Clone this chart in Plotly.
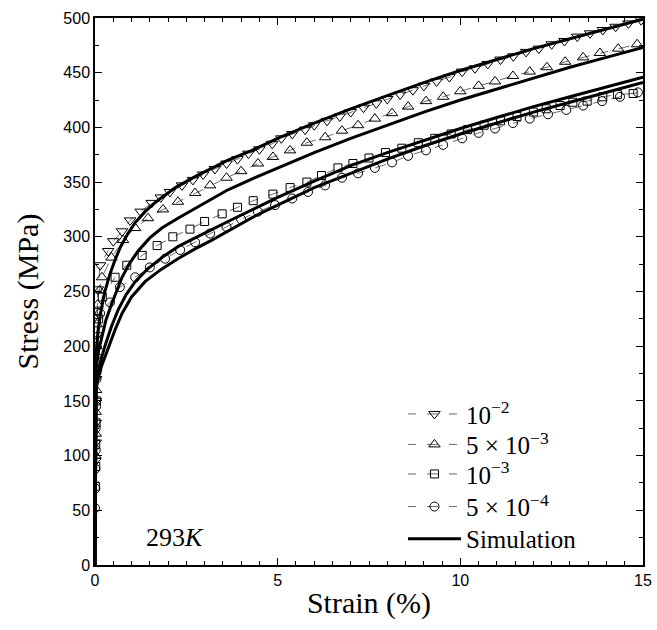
import plotly.graph_objects as go

# ---- experimental data (strain %, stress MPa) ----
td_strain = [0.01, 0.02, 0.02, 0.03, 0.03, 0.04, 0.05, 0.06, 0.08, 0.14, 0.36, 0.5, 0.74, 0.96, 1.25, 1.55, 1.8, 2.05,
             2.38, 2.68, 2.96, 3.28, 3.6, 3.9, 4.2, 4.5, 4.85, 5.1, 5.4, 5.75, 6.0, 6.35, 6.7, 7.0, 7.35, 7.7, 8.0,
             8.35, 8.7, 9.0, 9.35, 9.7, 10.05, 10.4, 10.75, 11.1, 11.45, 11.8, 12.15, 12.5, 12.85, 13.2, 13.55,
             13.9, 14.25, 14.6, 14.95]
td_stress = [95, 112, 130, 150, 170, 190, 210, 232, 252, 274, 287, 296, 305, 315, 323, 331, 336, 341,
             347, 352, 357, 362, 367, 371, 376, 380, 385, 390, 394, 398, 402, 406, 410, 414, 418, 422, 426,
             430, 434, 438, 442, 446, 451, 454, 458, 462, 465, 469, 472, 476, 479, 483, 486,
             489, 492, 495, 498]

tu_strain = [0.01, 0.02, 0.02, 0.03, 0.03, 0.04, 0.05, 0.07, 0.12, 0.19, 0.45, 0.77, 1.1, 1.45, 1.86, 2.27, 2.74,
             3.15, 3.6, 4.0, 4.46, 4.87, 5.34, 5.8, 6.3, 6.76, 7.2, 7.66, 8.13, 8.57, 9.06, 9.53, 10.0,
             10.5, 10.95, 11.44, 11.9, 12.37, 12.87, 13.36, 13.82, 14.32, 14.84]
tu_stress = [100, 120, 140, 160, 180, 200, 220, 238, 251, 263, 281, 297, 308, 317, 325, 332, 340,
             347, 354, 360, 367, 373, 379, 386, 391, 397, 402, 408, 413, 419, 424, 428, 433,
             438, 442, 447, 451, 455, 460, 464, 468, 472, 476]

sq_strain = [0.01, 0.02, 0.02, 0.03, 0.04, 0.05, 0.1, 0.2, 0.55, 0.87, 1.29, 1.7, 2.13, 2.6, 3.0, 3.48, 3.9,
             4.33, 4.87, 5.34, 5.8, 6.2, 6.65, 7.06, 7.5, 7.95, 8.4, 8.85, 9.3, 9.75, 10.2, 10.65, 11.1,
             11.55, 12.0, 12.35, 12.73, 13.08, 13.47, 13.9, 14.3, 14.73]
sq_stress = [72, 90, 110, 130, 150, 178, 225, 245, 263, 274, 283, 292, 300, 307, 314, 321, 327,
             333, 339, 345, 350, 356, 363, 367, 372, 377, 381, 386, 390, 394, 398, 402, 406,
             410, 414, 417, 420, 423, 424, 428, 430, 431]

ci_strain = [0.0, 0.01, 0.01, 0.02, 0.02, 0.03, 0.04, 0.06, 0.14, 0.41, 0.68, 1.1, 1.5, 1.92, 2.33, 2.74,
             3.15, 3.6, 4.0, 4.46, 4.93, 5.4, 5.83, 6.3, 6.76, 7.2, 7.66, 8.13, 8.57, 9.06, 9.53,
             10.05, 10.5, 10.95, 11.44, 11.9, 12.4, 12.9, 13.36, 13.88, 14.37, 14.86]
ci_stress = [52, 70, 88, 105, 125, 145, 170, 205, 230, 240, 254, 263, 272, 280, 288, 295,
             303, 309, 316, 323, 329, 335, 341, 347, 354, 358, 363, 368, 374, 379, 384,
             390, 395, 399, 404, 408, 412, 416, 420, 424, 428, 432]

# ---- simulation curves ----
s1_strain = [0, 0.02, 0.08, 0.15, 0.27, 0.4, 0.55, 0.7, 0.9, 1.1, 1.37, 1.6, 1.83, 2.2, 2.74, 3.2, 3.64, 4.3,
             5.0, 6.0, 7.0, 8.0, 9.0, 10.0, 11.0, 12.0, 13.0, 14.0, 15.0]
s1_stress = [0, 188, 212, 230, 250, 265, 279, 291, 303, 313, 323, 330, 336, 345, 355, 363, 370, 379,
             390, 404, 417, 429, 441, 452, 462, 472, 481, 490, 499]

s2_strain = [0, 0.03, 0.1, 0.19, 0.3, 0.47, 0.6, 0.74, 0.95, 1.18, 1.5, 1.83, 2.27, 2.74, 3.2, 3.64, 4.38,
             5.0, 6.0, 7.0, 8.0, 9.0, 10.0, 11.0, 12.0, 13.0, 14.0, 15.0]
s2_stress = [0, 180, 196, 210, 224, 240, 252, 263, 276, 287, 299, 308, 317, 326, 335, 343, 354,
             363, 377, 390, 402, 414, 425, 435, 445, 455, 464, 473]

s3_strain = [0, 0.03, 0.08, 0.15, 0.27, 0.45, 0.63, 0.85, 1.1, 1.45, 1.83, 2.27, 2.74, 3.2, 3.64, 4.38, 5.0,
             6.0, 7.0, 8.0, 9.0, 10.0, 11.0, 12.0, 13.0, 14.0, 15.0]
s3_stress = [0, 165, 176, 186, 200, 218, 233, 247, 259, 271, 281, 291, 299, 307, 314, 326, 336,
             351, 365, 377, 388, 399, 409, 419, 428, 437, 446]

s4_strain = [0, 0.03, 0.08, 0.18, 0.36, 0.55, 0.74, 1.0, 1.37, 1.8, 2.27, 2.74, 3.2, 3.8, 4.38, 5.0, 6.0,
             7.0, 8.0, 9.0, 10.0, 11.0, 12.0, 13.0, 14.0, 15.0]
s4_stress = [0, 160, 170, 182, 198, 215, 230, 245, 259, 270, 280, 289, 297, 308, 319, 329, 345,
             358, 371, 383, 394, 404, 414, 423, 432, 441]

labels = ["10<sup>−2</sup>", "5 × 10<sup>−3</sup>", "10<sup>−3</sup>", "5 × 10<sup>−4</sup>", "Simulation"]

SERIF = "Liberation Serif, DejaVu Serif, serif"
SANS = "Liberation Sans, Arial, sans-serif"
legend_ids = ["legend", "legend2", "legend3", "legend4", "legend5"]

fig = go.Figure()

data_sets = [
    (td_strain, td_stress, "triangle-down-open", 10),
    (tu_strain, tu_stress, "triangle-up-open", 10),
    (sq_strain, sq_stress, "square-open", 8),
    (ci_strain, ci_stress, "circle-open", 9),
]
for k, ((xs, ys, sym, sz), lab) in enumerate(zip(data_sets, labels)):
    fig.add_trace(go.Scatter(
        x=xs, y=ys, mode="lines+markers", name=lab, legend=legend_ids[k],
        line=dict(color="#444444", width=0.8, dash="8px,11px,11px,11px"),
        marker=dict(symbol=sym, size=sz, color="black", line=dict(color="black", width=1)),
    ))

for i, (xs, ys) in enumerate([(s1_strain, s1_stress), (s2_strain, s2_stress),
                              (s3_strain, s3_stress), (s4_strain, s4_stress)]):
    fig.add_trace(go.Scatter(
        x=xs, y=ys, mode="lines", name=labels[4], showlegend=(i == 0), legend=legend_ids[4],
        line=dict(color="black", width=3),
    ))

fig.add_annotation(x=2.2, y=25, text="293<i>K</i>", showarrow=False,
                   font=dict(family=SERIF, size=26, color="black"))

axis_common = dict(
    showline=True, linecolor="black", linewidth=1.5, mirror="ticks",
    ticks="inside", ticklen=7, tickwidth=1, tickcolor="black",
    showgrid=False, zeroline=False, automargin=False,
    tickfont=dict(family=SANS, size=16, color="black"),
)

fig.update_xaxes(range=[0, 15], dtick=5, tick0=0,
                 minor=dict(dtick=0.5, ticks="inside", ticklen=4, tickcolor="black"),
                 title=dict(text="Strain (%)", font=dict(family=SERIF, size=30, color="black"), standoff=4),
                 **axis_common)
fig.update_yaxes(range=[0, 500], dtick=50, tick0=0,
                 minor=dict(dtick=25, ticks="inside", ticklen=4, tickcolor="black"),
                 title=dict(text="Stress (MPa)", font=dict(family=SERIF, size=30, color="black"), standoff=16),
                 **axis_common)

legend_y = [0.2757, 0.2200, 0.1660, 0.1064, 0.0477]
leg_common = dict(x=0.562, xanchor="left", yanchor="middle", bgcolor="rgba(0,0,0,0)",
                  font=dict(family=SERIF, size=25, color="black"), itemwidth=53,
                  borderwidth=0)
layout_legends = {lid: dict(y=yy, **leg_common) for lid, yy in zip(legend_ids, legend_y)}

fig.update_layout(
    width=657, height=630,
    margin=dict(l=95, r=14, t=18, b=65, autoexpand=False),
    plot_bgcolor="white", paper_bgcolor="white",
    showlegend=True,
    **layout_legends,
)

fig.write_html("out.html", config={"displayModeBar": False},
               post_script="document.body.style.margin='0px';document.body.style.overflow='hidden';")
